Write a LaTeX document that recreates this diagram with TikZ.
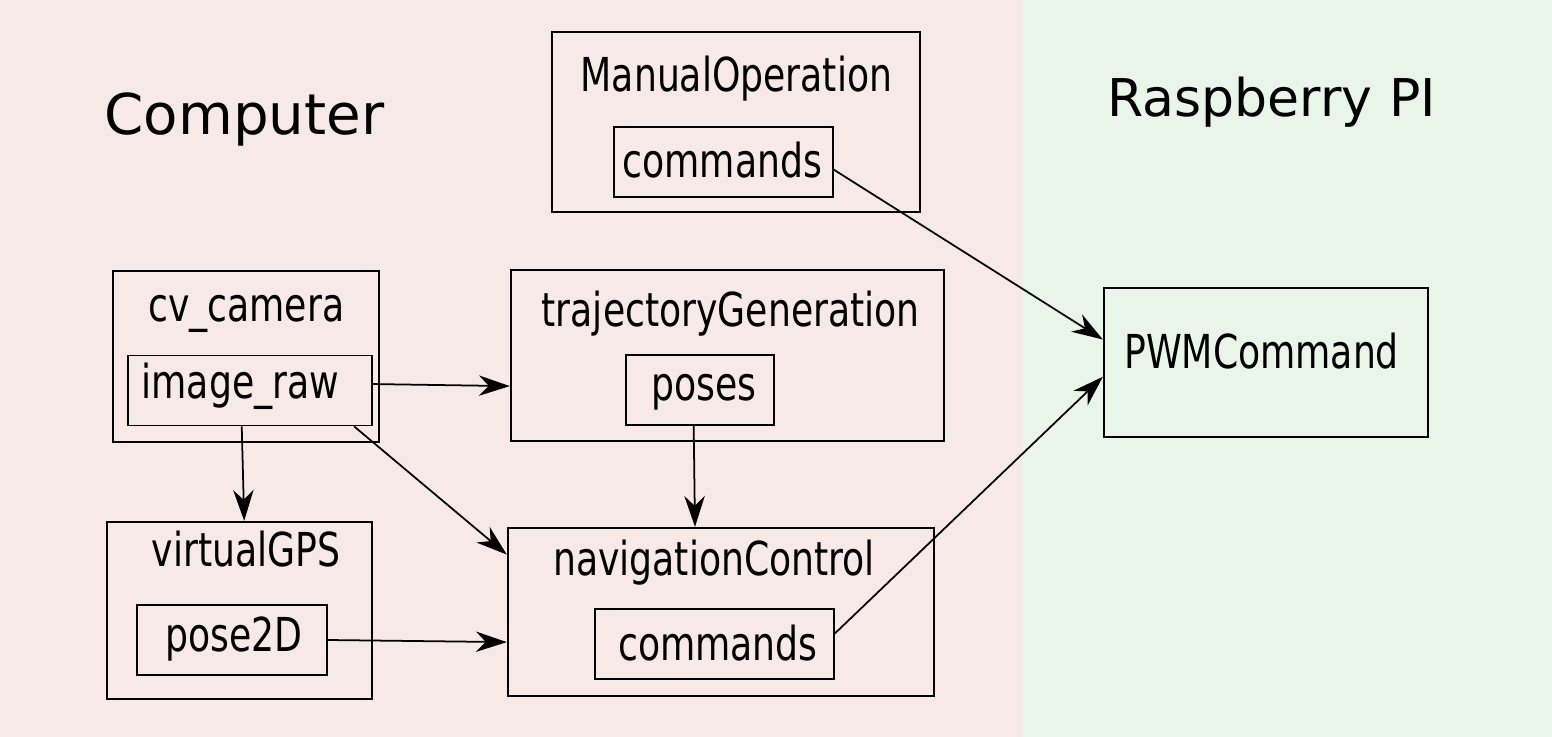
\documentclass[tikz,border=0pt]{standalone}
\usepackage{fontspec}
\setmainfont{DejaVu Sans}
\newfontfamily\condfont[FakeStretch=0.86]{DejaVu Sans Condensed}
\usetikzlibrary{arrows.meta}
\definecolor{pcbg}{HTML}{F7E9E8}
\definecolor{pibg}{HTML}{EAF5E9}
\tikzstyle{nodebox}=[draw,line width=0.6pt,inner sep=0pt]
\tikzstyle{topic}=[draw,line width=0.45pt,inner sep=0pt,minimum height=0.7cm]
\tikzstyle{boxname}=[inner sep=0pt,anchor=base west,font=\condfont\fontsize{13.3}{16}\selectfont]
\tikzstyle{msg}=[draw,line width=0.5pt,-{Stealth[length=8.8pt,width=5.8pt,inset=2.8pt]}]

\begin{document}
\begin{tikzpicture}[x=0.01cm,y=-0.01cm]

    % machines
    \fill[pcbg] (0,0) rectangle (1022,737);
    \fill[pibg] (1022,0) rectangle (1552,737);
    \node[inner sep=0pt,anchor=base west,font=\fontsize{16}{19}\selectfont] (pc) at (104,135) {Computer};
    \node[inner sep=0pt,anchor=base west,font=\fontsize{14.8}{17}\selectfont] (pi) at (1107,116.7) {Raspberry PI};

    % ROS nodes
    \node[nodebox,minimum width=3.68cm,minimum height=1.80cm] (manual) at (736,122) {};
    \node[nodebox,minimum width=2.66cm,minimum height=1.71cm] (camera) at (246,356.5) {};
    \node[nodebox,minimum width=4.33cm,minimum height=1.71cm] (traj) at (727.5,355.5) {};
    \node[nodebox,minimum width=2.65cm,minimum height=1.77cm] (vgps) at (239.5,610.5) {};
    \node[nodebox,minimum width=4.26cm,minimum height=1.68cm] (nav) at (721,612) {};
    \node[nodebox,minimum width=3.24cm,minimum height=1.49cm] (pwm) at (1266,362.5) {};

    % topics
    \node[topic,minimum width=2.19cm] (mocmd) at (723.5,162) {};
    \node[topic,minimum width=2.44cm] (imgraw) at (250,390.5) {};
    \node[topic,minimum width=1.48cm] (poses) at (700,390) {};
    \node[topic,minimum width=1.90cm] (pose2d) at (232,640) {};
    \node[topic,minimum width=2.39cm] (navcmd) at (714.5,644) {};

    % texts
    \foreach \pos/\name/\txt in {{(580,92)/manualname/ManualOperation}, {(622,178)/mocmdname/commands},
        {(147.5,321.7)/cameraname/cv\_camera}, {(141,398)/imgrawname/image\_raw},
        {(541,326.7)/trajname/trajectoryGeneration}, {(651,400)/posesname/poses},
        {(151,566.7)/vgpsname/virtualGPS}, {(164.5,651.7)/pose2dname/pose2D},
        {(552.5,575)/navname/navigationControl}, {(617.5,660)/navcmdname/commands},
        {(1123.5,368.3)/pwmname/PWMCommand}}
        \node[boxname] (\name) at \pos {\txt};

    % messages
    \foreach \source/ \dest in {mocmd.-4/pwm.172, imgraw.3/traj.188, imgraw.-103/vgps.87,
        imgraw.-19/nav.165, poses.-100/nav.107, pose2d.east/nav.188, navcmd.5/pwm.185}
        \path[msg] (\source) -- (\dest);

\end{tikzpicture}
\end{document}
